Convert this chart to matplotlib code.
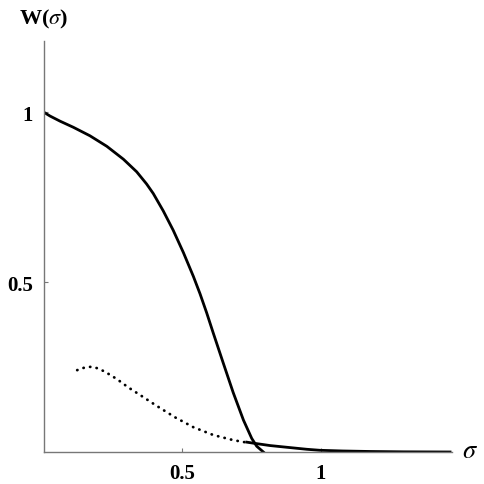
import matplotlib.pyplot as plt

plt.rcParams['font.family'] = ['Liberation Serif', 'DejaVu Serif']
plt.rcParams['mathtext.fontset'] = 'stix'

# main solid curve
sigma_main = [0.0, 0.022, 0.058, 0.106, 0.166, 0.227, 0.287, 0.335, 0.371, 0.395,
              0.431, 0.467, 0.504, 0.54, 0.564, 0.588, 0.612, 0.648, 0.684,
              0.721, 0.751, 0.769, 0.793]
w_main = [1.0, 0.989, 0.974, 0.956, 0.931, 0.900, 0.862, 0.825, 0.789, 0.761,
          0.710, 0.653, 0.587, 0.517, 0.466, 0.410, 0.350, 0.262, 0.175,
          0.094, 0.040, 0.017, 0.0]

# solid tail
sigma_tail = [0.733, 0.757, 0.817, 0.877, 0.95, 0.998, 1.08, 1.18, 1.3, 1.468]
w_tail = [0.029, 0.026, 0.019, 0.014, 0.008, 0.005, 0.003, 0.0015, 0.0005, 0.0]

# dotted curve
sigma_dot = [0.12, 0.148, 0.172, 0.196, 0.221, 0.263, 0.305, 0.347, 0.407, 0.474,
             0.54, 0.612, 0.684, 0.745]
w_dot = [0.241, 0.249, 0.251, 0.246, 0.236, 0.215, 0.190, 0.168, 0.136, 0.102,
         0.073, 0.050, 0.035, 0.026]

fig = plt.figure(figsize=(4.85, 4.85), dpi=100)
ax = fig.add_axes([44 / 485, 32 / 485, 408 / 485, 411 / 485])

ax.plot(sigma_main, w_main, color='black', lw=2.0, solid_joinstyle='round')
ax.plot(sigma_tail, w_tail, color='black', lw=2.0, solid_joinstyle='round')
ax.plot(sigma_dot, w_dot, color='black', lw=2.0, linestyle=(0, (0.1, 2.3)),
        dash_capstyle='round')

ax.set_xlim(0, 1.475)
ax.set_ylim(0, 1.21)

for s in ['top', 'right']:
    ax.spines[s].set_visible(False)
for s in ['left', 'bottom']:
    ax.spines[s].set_color('#777777')
    ax.spines[s].set_linewidth(1.0)

ax.set_xticks([0.5, 1])
ax.set_xticklabels(['0.5', '1'])
ax.set_yticks([0.5, 1])
ax.set_yticklabels(['0.5', '1'])
ax.tick_params(direction='in', length=3, color='#777777', labelsize=15, pad=8)
for lab in ax.get_xticklabels() + ax.get_yticklabels():
    lab.set_fontweight('bold')

fig.text(44 / 485, 1 - 19 / 485, r'W($\sigma$)', fontsize=16, fontweight='bold',
         ha='center', va='center')
fig.text(470 / 485, 1 - 452 / 485, r'$\sigma$', fontsize=19, ha='center', va='center')

fig.savefig('out.png', dpi=100)
